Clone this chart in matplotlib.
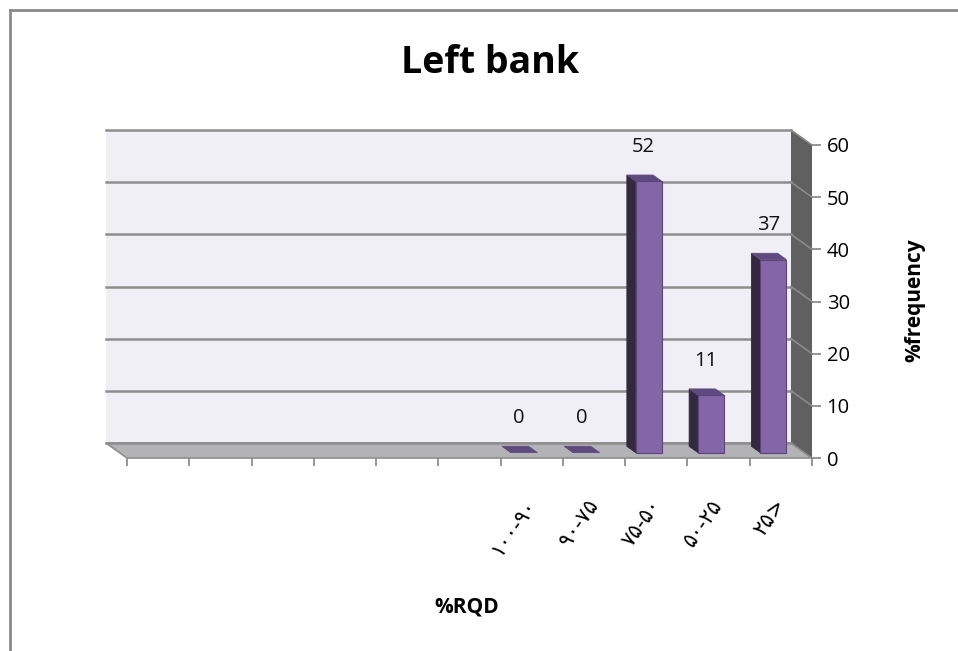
import matplotlib
matplotlib.use("Agg")
import matplotlib.pyplot as plt
from matplotlib.patches import Polygon
from matplotlib.lines import Line2D

# ---- data ----
categories = ["", "", "", "", "", "", "۱۰۰-۹۰", "۹۰-۷۵", "۷۵-۵۰", "۵۰-۲۵", "۲۵>"]
values = [None, None, None, None, None, None, 0, 0, 52, 11, 37]
yticks = [0, 10, 20, 30, 40, 50, 60]
title = "Left bank"
xlabel = "%RQD"
ylabel = "%frequency"

# ---- style ----
W, H = 958, 651
fig = plt.figure(figsize=(W / 100, H / 100), dpi=100)
fig.patch.set_facecolor("white")

# front plane of the pseudo-3D box, in pixels
L, R, B, T = 127, 812, 458, 145
ax = fig.add_axes([L / W, 1 - B / H, (R - L) / W, (B - T) / H])
n = len(categories)
ymax = yticks[-1]
ax.set_xlim(0, n)
ax.set_ylim(0, ymax)
ax.set_facecolor("none")
for s in ax.spines.values():
    s.set_visible(False)

pxx = (R - L) / n
pxy = (B - T) / ymax
DX = 21 / pxx     # depth offset (to the back = left/up)
DY = 15 / pxy


def P(x, y, f):
    return (x - f * DX, y + f * DY)


grid_c = "#8E8E8E"
wall_c = "#F0EFF5"
floor_c = "#B3B2B7"
side_c = "#606060"

# back wall
ax.add_patch(Polygon([P(0, 0, 1), P(n, 0, 1), P(n, ymax, 1), P(0, ymax, 1)],
                     closed=True, fc=wall_c, ec="none", clip_on=False, zorder=0))
# floor
ax.add_patch(Polygon([P(0, 0, 0), P(n, 0, 0), P(n, 0, 1), P(0, 0, 1)],
                     closed=True, fc=floor_c, ec=grid_c, lw=1.2, clip_on=False, zorder=1))
# right side wall
ax.add_patch(Polygon([P(n, 0, 0), P(n, ymax, 0), P(n, ymax, 1), P(n, 0, 1)],
                     closed=True, fc=side_c, ec="none", clip_on=False, zorder=1))
# grid lines
for g in yticks:
    a, b = P(0, g, 1), P(n, g, 1)
    ax.add_line(Line2D([a[0], b[0]], [a[1], b[1]], color=grid_c, lw=1.8,
                       clip_on=False, zorder=2))
    c = P(n, g, 0)
    ax.add_line(Line2D([b[0], c[0]], [b[1], c[1]], color="#8A8A8A", lw=1.2,
                       clip_on=False, zorder=2))

# bars
front_c = "#8466A8"
top_c = "#5F4A80"
dark_c = "#33283F"
edge_c = "#5A4478"
w = 0.42
f0, f1 = 0.36, 0.78
for i, v in enumerate(values):
    if v is None:
        continue
    c = i + 0.5
    x0, x1 = c - w / 2, c + w / 2
    side = [P(x0, 0, f0), P(x0, v, f0), P(x0, v, f1), P(x0, 0, f1)]
    top = [P(x0, v, f0), P(x1, v, f0), P(x1, v, f1), P(x0, v, f1)]
    front = [P(x0, 0, f0), P(x1, 0, f0), P(x1, v, f0), P(x0, v, f0)]
    ax.add_patch(Polygon(side, closed=True, fc=dark_c, ec=dark_c, lw=0.6,
                         clip_on=False, zorder=3))
    ax.add_patch(Polygon(top, closed=True, fc=top_c, ec=top_c, lw=0.6,
                         clip_on=False, zorder=3))
    if v > 0:
        ax.add_patch(Polygon(front, closed=True, fc=front_c, ec=edge_c, lw=0.8,
                             clip_on=False, zorder=4))
    lx, ly = P(c, v, 0.6)
    ax.annotate(f"{v}", (lx, ly), xytext=(0, 22), textcoords="offset points",
                ha="center", va="center", fontsize=14.5, family=["Open Sans", "DejaVu Sans"],
                color="#111111", zorder=6, annotation_clip=False)

# axes ticks
ax.yaxis.tick_right()
ax.set_yticks(yticks)
ax.set_yticklabels([str(t) for t in yticks], fontsize=14.5, family=["Open Sans", "DejaVu Sans"])
ax.tick_params(axis="y", which="major", length=6.5, width=1.3, color=grid_c, pad=4)

ax.set_xticks(range(n + 1))
ax.set_xticklabels([""] * (n + 1))
ax.tick_params(axis="x", which="major", length=6, width=1.3, color=grid_c)
ax.set_xticks([i + 0.5 for i in range(n)], minor=True)
ax.set_xticklabels(categories, minor=True, fontsize=15, family=["DejaVu Sans"])
ax.tick_params(axis="x", which="minor", length=0, pad=31)
for lab in ax.get_xticklabels(minor=True):
    lab.set_rotation(55)
    lab.set_ha("right")
    lab.set_va("center")
    lab.set_rotation_mode("anchor")

# texts
fig.text(490 / W, 1 - 63 / H, title, ha="center", va="center", fontsize=27,
         fontweight="bold", family=["Open Sans", "DejaVu Sans"])
fig.text(467 / W, 1 - 607 / H, xlabel, ha="center", va="center", fontsize=15,
         fontweight="bold", family=["Open Sans", "DejaVu Sans"])
fig.text(915 / W, 1 - 300 / H, ylabel, ha="center", va="center", fontsize=15,
         fontweight="bold", rotation=90, family=["Open Sans", "DejaVu Sans"])

# outer chart frame
fig.add_artist(Line2D([10 / W, 1], [1 - 10 / H, 1 - 10 / H], color="#8A8A8A", lw=2,
                      transform=fig.transFigure))
fig.add_artist(Line2D([10 / W, 10 / W], [0, 1 - 10 / H], color="#8A8A8A", lw=2,
                      transform=fig.transFigure))

fig.savefig("out.png", dpi=100)
